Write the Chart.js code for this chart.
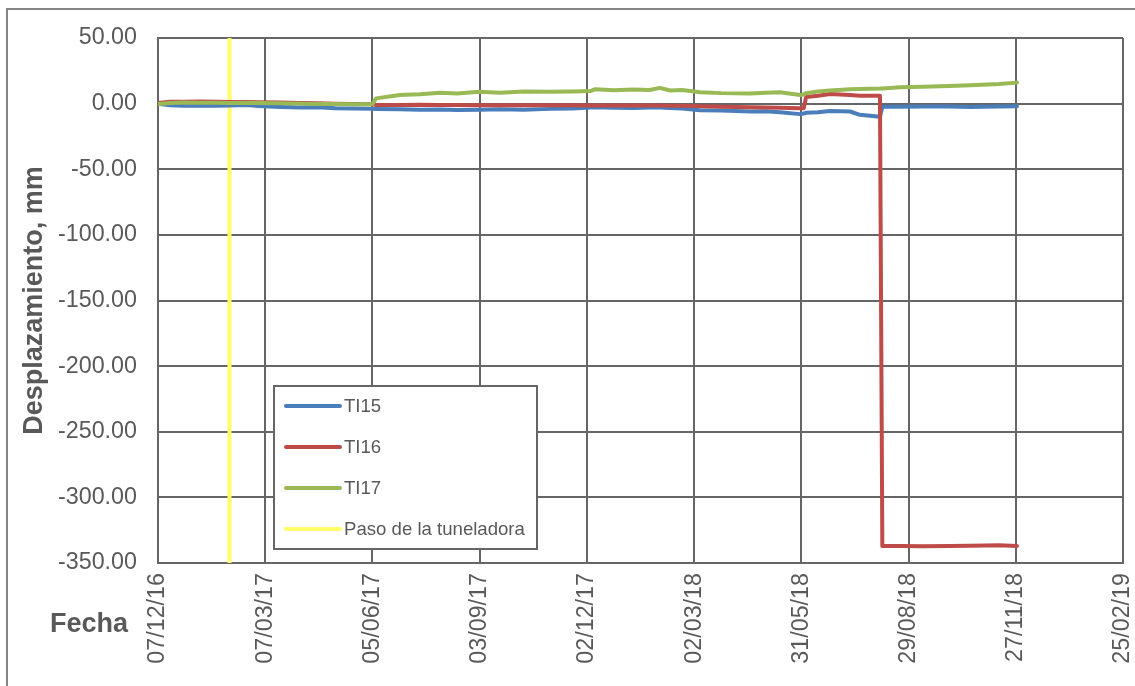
<!DOCTYPE html>
<html>
<head>
<meta charset="utf-8">
<script src="https://cdn.jsdelivr.net/npm/chart.js@4"></script>
<style>
  html, body { margin: 0; padding: 0; background: #fff; }
  #wrap { width: 1135px; height: 686px; position: relative; }
</style>
</head>
<body>
<div id="wrap"><canvas id="chart" width="1135" height="686"></canvas></div>
<script>
// Datos
const fechas = [
  '07/12/16', '17/12/16', '28/12/16', '11/01/17', '25/01/17', '05/02/17', '20/02/17', '01/03/17',
  '20/03/17', '05/04/17', '20/04/17', '05/05/17', '20/05/17', '05/06/17', '08/06/17', '28/06/17',
  '15/07/17', '01/08/17', '15/08/17', '03/09/17', '20/09/17', '10/10/17', '01/11/17', '20/11/17',
  '05/12/17', '09/12/17', '25/12/17', '10/01/18', '24/01/18', '01/02/18', '10/02/18', '20/02/18',
  '07/03/18', '25/03/18', '18/04/18', '01/05/18', '13/05/18', '30/05/18', '02/06/18', '04/06/18',
  '14/06/18', '24/06/18', '11/07/18', '19/07/18', '05/08/18', '07/08/18', '22/08/18', '10/09/18',
  '02/10/18', '20/10/18', '13/11/18', '28/11/18'
];
const ti15 = [
  0, -1.3, -1.6, -1.4, -1.7, -1.5, -1.0, -1.8,
  -2.6, -3.0, -2.8, -3.5, -3.8, -4.0, -4.0, -4.2,
  -4.6, -4.5, -4.8, -4.6, -4.3, -4.6, -4.0, -3.8,
  -3.0, -2.8, -3.1, -3.3, -3.0, -3.0, -3.3, -3.8,
  -5.0, -5.3, -6.0, -5.8, -6.5, -8.0, -7.5, -7.0,
  -6.5, -5.6, -6.0, -8.5, -10.0, -2.4, -2.4, -2.2,
  -2.2, -2.6, -2.2, -2.0
];
const ti16 = [
  0.5, 1.5, 1.4, 1.6, 1.4, 1.3, 1.2, 1.0,
  0.8, 0.5, 0.3, 0, -0.3, -0.5, -1.0, -1.0,
  -0.8, -1.0, -1.1, -1.2, -1.2, -1.3, -1.2, -1.3,
  -1.5, -1.5, -1.4, -1.5, -1.5, -1.5, -1.6, -1.7,
  -2.0, -2.3, -2.8, -3.0, -3.2, -3.6, -3.6, 5.0,
  6.0, 7.3, 6.5, 6.0, 6.0, -337, -337, -337.3,
  -337, -336.8, -336.5, -337
];
const ti17 = [
  -0.3, 0.5, 0.8, 0.6, 0.7, 0.4, 0.6, 0.4,
  0.2, 0, -0.2, -0.3, -0.5, -0.4, 4.0, 6.5,
  7.2, 8.3, 7.8, 9.0, 8.3, 9.2, 9.0, 9.2,
  9.6, 11.0, 10.2, 10.8, 10.4, 12.0, 10.0, 10.3,
  8.6, 8.0, 7.8, 8.3, 8.6, 6.5, 7.0, 8.0,
  9.2, 10.0, 11.0, 11.2, 11.5, 11.6, 12.4, 12.8,
  13.4, 14.0, 15.0, 16.0
];
const pasoTuneladora = '05/02/17';
const xTickLabels = ['07/12/16', '07/03/17', '05/06/17', '03/09/17', '02/12/17', '02/03/18', '31/05/18', '29/08/18', '27/11/18', '25/02/19'];
const yMin = -350, yMax = 50, yStep = 50;

const FONT = '"Liberation Sans", Arial, sans-serif';
const TXT = '#595959';
const GRID = '#666666';

function dia(s) {
  const [d, m, y] = s.split('/').map(Number);
  return (Date.UTC(2000 + y, m - 1, d) - Date.UTC(2016, 11, 7)) / 86400000;
}
const serie = vals => fechas.map((f, i) => ({ x: dia(f), y: vals[i] }));

const series = [
  { label: 'TI15', data: serie(ti15), color: '#4A7EBB', order: 2 },
  { label: 'TI16', data: serie(ti16), color: '#BE4B48', order: 1 },
  { label: 'TI17', data: serie(ti17), color: '#98B954', order: 0 },
  { label: 'Paso de la tuneladora', data: [{ x: dia(pasoTuneladora), y: yMin }, { x: dia(pasoTuneladora), y: yMax }], color: '#FFFF66', order: 3 },
];

// Marco, títulos y leyenda
const extras = {
  id: 'extras',
  beforeDraw(chart) {
    const ctx = chart.ctx;
    ctx.save();
    ctx.strokeStyle = '#868686';
    ctx.lineWidth = 2;
    ctx.beginPath();
    ctx.moveTo(7, 700); ctx.lineTo(7, 9); ctx.lineTo(1140, 9);
    ctx.stroke();
    ctx.restore();
  },
  afterDraw(chart) {
    const ctx = chart.ctx;
    const a = chart.chartArea;
    ctx.save();
    ctx.fillStyle = TXT;
    ctx.font = `bold 27px ${FONT}`;
    ctx.textAlign = 'center';
    ctx.textBaseline = 'middle';
    ctx.fillText('Fecha', 89, 625);
    ctx.translate(35, (a.top + a.bottom) / 2);
    ctx.rotate(-Math.PI / 2);
    ctx.fillText('Desplazamiento, mm', 0, 0);
    ctx.restore();

    // leyenda
    const lx = a.left + 116, ly = a.top + 348;
    ctx.save();
    ctx.fillStyle = '#fff';
    ctx.fillRect(lx, ly, 263, 163);
    ctx.strokeStyle = GRID;
    ctx.lineWidth = 2;
    ctx.strokeRect(lx, ly, 263, 163);
    ctx.font = `18.6px ${FONT}`;
    ctx.textBaseline = 'middle';
    ctx.textAlign = 'left';
    series.forEach((s, i) => {
      const y = ly + 20 + i * 41;
      ctx.strokeStyle = s.color;
      ctx.lineWidth = 4;
      ctx.lineCap = 'round';
      ctx.beginPath();
      ctx.moveTo(lx + 12, y); ctx.lineTo(lx + 66, y);
      ctx.stroke();
      ctx.fillStyle = TXT;
      ctx.fillText(s.label, lx + 70, y + 1);
    });
    ctx.restore();
  }
};

new Chart(document.getElementById('chart'), {
  type: 'line',
  data: {
    datasets: series.map(s => ({
      label: s.label,
      data: s.data,
      order: s.order,
      borderColor: s.color,
      backgroundColor: s.color,
      borderWidth: 4,
      borderJoinStyle: 'round',
      borderCapStyle: 'round',
      pointRadius: 0,
      tension: 0,
      fill: false,
    })),
  },
  options: {
    responsive: false,
    animation: false,
    layout: { padding: { left: 0, top: 38, right: 12, bottom: 0 } },
    plugins: { legend: { display: false }, tooltip: { enabled: false } },
    scales: {
      x: {
        type: 'linear',
        min: 0,
        max: 810,
        ticks: {
          stepSize: 90,
          autoSkip: false,
          minRotation: 90,
          maxRotation: 90,
          padding: 10,
          color: TXT,
          font: { family: FONT, size: 23.3 },
          callback: (v, i) => xTickLabels[i],
        },
        grid: { color: GRID, lineWidth: 2, drawTicks: false },
        border: { color: GRID, width: 2 },
        afterFit(s) { s.height = 123; s.paddingLeft = 0; s.paddingRight = 0; },
      },
      y: {
        min: yMin,
        max: yMax,
        ticks: {
          stepSize: yStep,
          padding: 21,
          color: TXT,
          font: { family: FONT, size: 23.3 },
          callback: v => v.toFixed(2),
        },
        grid: { color: GRID, lineWidth: 2, drawTicks: false },
        border: { color: GRID, width: 2 },
        afterFit(s) { s.width = 158; s.paddingTop = 0; s.paddingBottom = 0; },
      },
    },
  },
  plugins: [extras],
});
</script>
</body>
</html>
